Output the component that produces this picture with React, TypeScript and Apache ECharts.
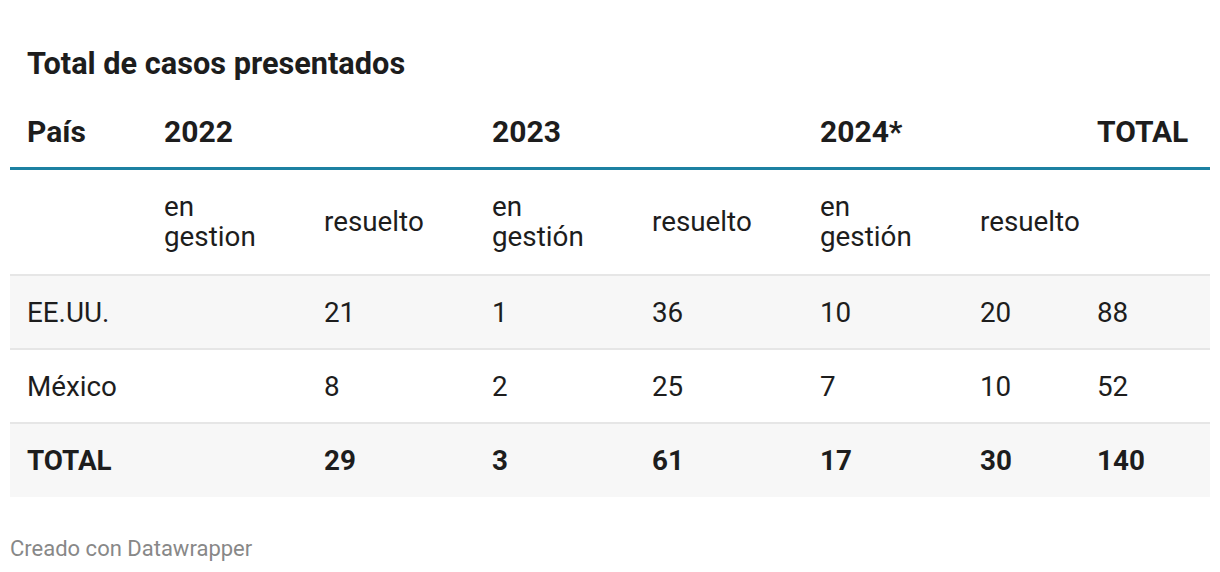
import React, { useEffect, useRef } from "react";
import * as echarts from "echarts";

const title = "Total de casos presentados";
const yearHeaders = ["País", "2022", "2023", "2024*", "TOTAL"];
const subHeaders = ["", "en\ngestion", "resuelto", "en\ngestión", "resuelto", "en\ngestión", "resuelto", ""];
const rowLabels = ["EE.UU.", "México", "TOTAL"];
const usaValues = [null, 21, 1, 36, 10, 20, 88];
const mexicoValues = [null, 8, 2, 25, 7, 10, 52];
const totalValues = [null, 29, 3, 61, 17, 30, 140];
const footer = "Creado con Datawrapper";

// layout
const colX = [27, 164, 324, 492, 652, 820, 980, 1097];
const yearColIdx = [0, 1, 3, 5, 7];
const FONT = "Roboto, 'Noto Sans', sans-serif";

export default function App() {
  const ref = useRef<HTMLDivElement>(null);
  useEffect(() => {
    if (!ref.current) return;
    const chart = echarts.init(ref.current, null, { renderer: "svg" });
    const els: any[] = [];
    const txt = (x: number, y: number, text: string, size: number, weight: string, color = "#1d1d1d", lh?: number) => ({
      type: "text",
      x,
      y,
      silent: true,
      style: {
        text,
        fontFamily: FONT,
        fontSize: size,
        fontWeight: weight,
        fill: color,
        align: "left",
        verticalAlign: "middle",
        lineHeight: lh ?? size * 1.2,
      },
    });
    const rect = (x: number, y: number, w: number, h: number, fill: string) => ({
      type: "rect",
      silent: true,
      shape: { x, y, width: w, height: h },
      style: { fill },
    });

    // backgrounds
    const rowTops = [276, 350, 424];
    const rowH = 73;
    const bgs = ["#f7f7f7", "#ffffff", "#f7f7f7"];
    rowTops.forEach((t, i) => els.push(rect(10, t, 1200, rowH, bgs[i])));
    // separators
    els.push(rect(10, 274, 1200, 2, "#e6e6e6"));
    els.push(rect(10, 348, 1200, 2, "#e6e6e6"));
    els.push(rect(10, 422, 1200, 2, "#e6e6e6"));
    // teal line
    els.push(rect(10, 167, 1200, 3, "#1d81a2"));

    els.push(txt(27, 63, title, 30.7, "bold"));
    yearHeaders.forEach((h, i) => {
      const ci = yearColIdx[i];
      els.push(txt(colX[ci], 131, h, 30, "bold"));
    });
    subHeaders.forEach((h, i) => {
      if (h) els.push(txt(colX[i], 221.5, h, 27.8, "normal", "#1d1d1d", 30));
    });
    const rows = [usaValues, mexicoValues, totalValues];
    rows.forEach((vals, r) => {
      const cy = rowTops[r] + rowH / 2;
      const bold = r === 2 ? "bold" : "normal";
      els.push(txt(colX[0], cy, rowLabels[r], 27.8, bold));
      vals.forEach((v, c) => {
        if (v !== null) els.push(txt(colX[c + 1], cy, String(v), 27.8, bold));
      });
    });
    els.push(txt(10, 548, footer, 22, "normal", "#888888"));

    chart.setOption({ animation: false, graphic: { elements: els } });
    return () => chart.dispose();
  }, []);
  return (
    <div
      ref={ref}
      style={{ position: "fixed", left: 0, top: 0, width: 1220, height: 572, background: "#fff" }}
    />
  );
}
